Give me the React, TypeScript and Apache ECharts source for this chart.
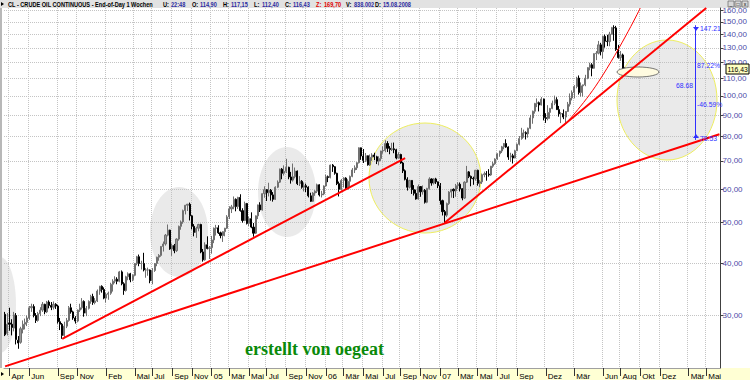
import React, { useEffect, useRef } from "react";
import * as echarts from "echarts";

// ---- data (weekly bars, week ending Friday) : [open, high, low, close]
const firstWeek = "2003-03-21";
const axisWeeks = 326;

const bars2003 = [
  [30.2, 30.6, 26.8, 27.0], [27.2, 30.4, 26.9, 28.6], [28.8, 31.3, 27.6, 28.6], [28.6, 29.4, 26.9, 28.1],
  [28.0, 30.6, 27.5, 30.1], [30.0, 30.4, 25.6, 26.3], [26.2, 26.8, 25.0, 25.8], [25.9, 28.2, 25.7, 27.9],
  [27.8, 29.2, 27.2, 28.6], [28.6, 29.5, 27.8, 28.9], [28.9, 30.0, 28.3, 29.6], [29.6, 31.6, 29.3, 31.3],
  [31.3, 32.0, 30.6, 31.5], [31.5, 31.9, 29.7, 30.0], [30.0, 30.4, 28.8, 29.2], [29.2, 30.6, 29.0, 30.3],
  [30.3, 31.4, 29.9, 30.9], [30.9, 32.3, 30.6, 31.9], [31.9, 32.0, 30.2, 30.6], [30.6, 32.5, 30.4, 32.3],
  [32.3, 32.6, 31.2, 31.7], [31.7, 32.3, 30.9, 31.4], [31.4, 32.4, 31.0, 31.9], [31.9, 32.1, 31.1, 31.6],
  [31.6, 31.8, 28.7, 29.0], [29.0, 29.6, 27.7, 28.6], [28.6, 28.8, 26.4, 26.9], [26.9, 29.0, 26.6, 28.3],
  [28.3, 29.6, 28.0, 29.2], [29.2, 31.6, 29.0, 31.3], [31.3, 32.0, 30.3, 30.6], [30.6, 30.8, 29.3, 29.6],
  [29.6, 29.9, 28.7, 29.1], [29.1, 31.0, 28.9, 30.9], [30.9, 32.0, 30.6, 31.3], [31.3, 33.0, 31.0, 32.4],
  [32.4, 32.6, 29.8, 30.4], [30.4, 31.6, 29.9, 31.2], [31.2, 32.6, 31.0, 32.4], [32.4, 33.6, 32.0, 33.3],
  [33.3, 33.8, 31.8, 32.2],
];
const bars2004 = [
  [32.2, 33.0, 31.9, 32.5], [32.5, 34.6, 32.3, 34.3], [34.3, 35.3, 33.6, 35.2], [35.2, 35.4, 34.0, 34.6],
  [34.6, 35.0, 32.8, 33.0], [33.0, 34.0, 32.2, 33.7], [33.7, 34.2, 32.7, 33.9], [33.9, 35.9, 33.6, 35.6],
  [35.6, 36.6, 34.2, 36.2], [36.2, 37.2, 35.8, 36.6], [36.6, 37.0, 35.6, 36.2], [36.2, 38.3, 36.0, 38.1],
  [38.1, 38.4, 35.4, 35.7], [35.7, 36.0, 33.6, 34.4], [34.4, 37.3, 34.2, 37.1], [37.1, 38.0, 36.4, 37.7],
  [37.7, 37.9, 36.0, 36.5], [36.5, 37.6, 36.2, 37.4], [37.4, 40.0, 37.2, 39.9], [39.9, 41.6, 39.5, 41.4],
  [41.4, 41.9, 39.3, 39.9], [39.9, 40.5, 38.6, 39.9], [39.9, 42.3, 38.2, 38.5], [38.5, 38.9, 36.9, 38.5],
  [38.5, 39.0, 37.3, 38.5], [38.5, 38.6, 35.8, 36.3], [36.3, 38.9, 35.6, 38.4], [38.4, 40.0, 38.1, 39.9],
  [39.9, 41.4, 39.3, 41.3], [41.3, 42.0, 40.5, 41.7], [41.7, 43.9, 41.4, 43.8], [43.8, 45.0, 42.6, 44.4],
  [44.4, 46.9, 44.0, 46.6], [46.6, 49.4, 46.3, 47.9], [47.9, 48.0, 43.0, 43.2], [43.2, 44.5, 41.6, 44.0],
  [44.0, 44.4, 42.2, 42.8], [42.8, 45.8, 42.5, 45.6], [45.6, 49.1, 45.2, 48.9], [48.9, 50.5, 48.0, 50.1],
  [50.1, 53.6, 49.6, 53.3], [53.3, 55.0, 52.2, 54.9], [54.9, 55.3, 53.2, 55.2], [55.2, 55.7, 50.5, 51.8],
  [51.8, 52.0, 48.1, 48.9], [48.9, 49.5, 46.3, 47.3], [47.3, 48.8, 45.9, 48.4], [48.4, 49.6, 47.6, 49.4],
  [49.4, 49.6, 42.2, 42.5], [42.5, 43.2, 40.3, 40.7], [40.7, 44.8, 40.5, 44.2], [44.2, 46.3, 43.1, 43.3],
  [43.3, 43.9, 40.9, 43.5],
];
const bars2005 = [
  [43.5, 46.4, 42.1, 45.4], [45.4, 48.6, 44.6, 48.4], [48.4, 49.3, 46.5, 48.5], [48.5, 49.2, 46.9, 47.2],
  [47.2, 47.5, 45.8, 46.5], [46.5, 47.6, 44.9, 47.5], [47.5, 48.5, 46.3, 48.4], [48.4, 52.0, 48.2, 51.5],
  [51.5, 54.6, 50.9, 53.8], [53.8, 55.0, 52.6, 54.4], [54.4, 57.6, 53.7, 56.7], [56.7, 57.0, 53.1, 54.5],
  [54.5, 57.5, 53.8, 57.3], [57.3, 58.3, 53.0, 53.3], [53.3, 54.0, 49.9, 50.5], [50.5, 56.0, 50.3, 55.4],
  [55.4, 55.6, 49.4, 49.7], [49.7, 51.6, 49.0, 51.0], [51.0, 52.8, 48.4, 48.7], [48.7, 49.8, 46.2, 47.1],
  [47.1, 51.9, 46.9, 51.8], [51.8, 55.1, 50.9, 55.0], [55.0, 55.8, 52.9, 53.5], [53.5, 58.6, 53.3, 58.5],
  [58.5, 60.9, 57.2, 59.8], [59.8, 60.0, 56.2, 58.8], [58.8, 62.1, 57.6, 59.6], [59.6, 60.0, 56.3, 58.1],
  [58.1, 59.0, 56.0, 56.7], [56.7, 60.9, 56.5, 60.6], [60.6, 62.9, 60.3, 62.3], [62.3, 67.1, 62.0, 66.9],
  [66.9, 67.3, 63.3, 65.4], [65.4, 68.3, 64.6, 66.1], [66.1, 70.8, 65.5, 67.6], [67.6, 67.8, 63.3, 64.1],
  [64.1, 65.9, 61.8, 63.0], [63.0, 69.0, 62.5, 64.2], [64.2, 67.5, 63.6, 66.2], [66.2, 66.4, 61.3, 61.8],
  [61.8, 64.4, 61.0, 62.6], [62.6, 63.0, 60.1, 60.6], [60.6, 62.2, 59.2, 61.1], [61.1, 61.8, 59.0, 60.6],
  [60.6, 60.9, 57.3, 57.8], [57.8, 58.8, 55.9, 56.1], [56.1, 59.0, 55.9, 58.7], [58.7, 59.6, 57.8, 59.3],
  [59.3, 61.8, 58.7, 61.4], [61.4, 61.6, 57.6, 58.1], [58.1, 59.4, 57.3, 58.4], [58.4, 61.2, 58.0, 61.0],
];
const bars2006 = [
  [61.0, 64.9, 60.8, 64.2], [64.2, 64.6, 62.3, 63.9], [63.9, 68.6, 63.6, 68.4], [68.4, 68.8, 65.9, 67.8],
  [67.8, 68.0, 64.9, 65.4], [65.4, 65.6, 61.3, 61.8], [61.8, 62.5, 57.6, 59.9], [59.9, 63.4, 59.5, 62.9],
  [62.9, 64.0, 60.5, 63.7], [63.7, 64.0, 59.8, 60.0], [60.0, 63.3, 59.9, 62.6], [62.6, 64.6, 60.3, 64.3],
  [64.3, 67.3, 64.0, 66.6], [66.6, 68.3, 65.5, 67.4], [67.4, 69.5, 66.6, 69.3], [69.3, 75.4, 69.0, 75.2],
  [75.2, 75.3, 70.4, 71.9], [71.9, 74.7, 69.2, 70.2], [70.2, 73.1, 69.6, 72.0], [72.0, 72.1, 68.2, 68.5],
  [68.5, 72.5, 68.1, 71.4], [71.4, 73.0, 70.0, 72.3], [72.3, 73.2, 70.3, 71.6], [71.6, 72.0, 68.8, 69.9],
  [69.9, 71.8, 68.3, 70.9], [70.9, 74.0, 70.0, 73.9], [73.9, 75.8, 72.8, 74.1], [74.1, 78.4, 73.4, 77.0],
  [77.0, 78.0, 73.5, 75.0], [75.0, 75.9, 72.6, 74.5], [74.5, 77.3, 73.9, 74.8], [74.8, 77.4, 73.0, 74.4],
  [74.4, 74.8, 70.6, 71.1], [71.1, 73.4, 70.9, 72.5], [72.5, 72.8, 68.9, 69.2], [69.2, 69.6, 65.5, 66.3],
  [66.3, 66.8, 62.9, 63.3], [63.3, 64.0, 59.5, 60.6], [60.6, 63.1, 60.2, 62.9], [62.9, 63.0, 58.4, 59.8],
  [59.8, 61.3, 57.9, 58.6], [58.6, 59.8, 56.6, 56.8], [56.8, 61.5, 56.6, 60.8], [60.8, 61.0, 57.5, 59.1],
  [59.1, 61.2, 58.2, 59.6], [59.6, 60.0, 55.4, 55.8], [55.8, 60.4, 55.5, 60.2], [60.2, 64.0, 59.8, 63.4],
  [63.4, 63.6, 61.1, 62.0], [62.0, 63.7, 61.5, 63.4], [63.4, 63.8, 61.7, 62.4], [62.4, 62.5, 60.3, 61.1],
];
const bars2007 = [
  [61.1, 62.0, 55.1, 56.3], [56.3, 56.6, 51.9, 53.0], [53.0, 53.5, 49.9, 52.0], [52.0, 55.7, 51.5, 55.4],
  [55.4, 59.3, 55.0, 59.0], [59.0, 60.0, 57.2, 59.9], [59.9, 60.2, 57.1, 59.4], [59.4, 61.7, 57.5, 61.1],
  [61.1, 62.3, 60.0, 61.6], [61.6, 62.2, 59.2, 60.1], [60.1, 60.3, 56.4, 57.1], [57.1, 62.6, 56.8, 62.3],
  [62.3, 68.1, 62.0, 65.9], [65.9, 66.2, 63.7, 64.3], [64.3, 64.6, 60.9, 63.6], [63.6, 64.2, 61.4, 63.4],
  [63.4, 66.6, 62.8, 66.5], [66.5, 66.7, 61.1, 61.9], [61.9, 63.0, 60.6, 62.4], [62.4, 65.3, 61.7, 64.9],
  [64.9, 66.0, 64.0, 65.2], [65.2, 66.2, 62.8, 65.1], [65.1, 66.9, 64.2, 64.8], [64.8, 68.1, 64.5, 68.0],
  [68.0, 69.7, 67.4, 68.9], [68.9, 71.0, 68.5, 70.7], [70.7, 73.0, 70.4, 72.8], [72.8, 74.0, 71.6, 73.9],
  [73.9, 76.0, 73.1, 75.6], [75.6, 77.2, 74.6, 77.0], [77.0, 78.8, 75.2, 75.5], [75.5, 75.8, 70.4, 71.5],
  [71.5, 73.2, 69.6, 72.0], [72.0, 72.8, 69.0, 71.1], [71.1, 74.4, 71.0, 74.0], [74.0, 77.0, 73.9, 76.7],
  [76.7, 80.2, 76.2, 79.1], [79.1, 83.9, 78.6, 81.6], [81.6, 83.1, 79.5, 81.7], [81.7, 82.3, 78.7, 81.2],
  [81.2, 84.0, 79.5, 83.7], [83.7, 90.1, 83.3, 88.6], [88.6, 92.2, 85.8, 91.9], [91.9, 96.2, 90.7, 95.9],
  [95.9, 98.6, 94.0, 96.3], [96.3, 96.9, 91.8, 95.1], [95.1, 99.3, 94.8, 98.2], [98.2, 98.5, 87.4, 88.7],
  [88.7, 90.9, 86.2, 88.3], [88.3, 95.0, 87.4, 91.3], [91.3, 93.6, 88.2, 93.3], [93.3, 97.4, 92.9, 96.0],
];
const bars2008 = [
  [96.0, 100.1, 95.0, 97.9], [97.9, 99.2, 92.6, 92.7], [92.7, 94.6, 89.2, 90.6], [90.6, 91.4, 86.1, 90.7],
  [90.7, 92.8, 88.0, 89.0], [89.0, 91.2, 86.1, 91.8], [91.8, 96.7, 91.5, 95.5], [95.5, 101.3, 94.3, 98.8],
  [98.8, 103.0, 97.5, 101.8], [101.8, 106.0, 98.6, 105.2], [105.2, 111.0, 104.2, 110.2], [110.2, 111.8, 100.7, 101.8],
  [101.8, 107.6, 99.6, 105.6], [105.6, 106.3, 99.6, 106.2], [106.2, 112.2, 105.4, 110.1], [110.1, 117.0, 109.5, 116.7],
  [116.7, 119.9, 115.0, 118.5], [118.5, 119.6, 111.3, 116.3], [116.3, 126.2, 116.0, 126.0], [126.0, 127.8, 121.6, 126.3],
  [126.3, 135.1, 125.5, 132.2], [132.2, 133.7, 124.8, 127.4], [127.4, 139.1, 122.7, 138.5], [138.5, 139.9, 130.2, 134.9],
  [134.9, 139.7, 131.3, 134.6], [134.6, 142.0, 131.2, 140.2], [140.2, 145.9, 139.8, 145.3], [145.3, 147.2, 135.2, 145.1],
  [145.1, 146.7, 127.9, 128.9], [128.9, 132.2, 122.6, 123.3], [123.3, 127.8, 121.1, 125.1], [125.1, 126.0, 114.6, 115.2],
  [114.9, 117.15, 112.4, 116.43],
];

const tickMonths = [
  "2003-04", "2003-06", "2003-09", "2003-11", "2004-02", "2004-05", "2004-07", "2004-09", "2004-11",
  "2005-01", "2005-03", "2005-05", "2005-07", "2005-09", "2005-11", "2006-01", "2006-03", "2006-05",
  "2006-07", "2006-09", "2006-11", "2007-01", "2007-03", "2007-05", "2007-07", "2007-09", "2007-12",
  "2008-03", "2008-06", "2008-08", "2008-10", "2008-12", "2009-03", "2009-05",
];
const tickLabels = [
  "Apr", "Jun", "Sep", "Nov", "Feb", "Mai", "Jul", "Sep", "Nov",
  "05", "Mär", "Mai", "Jul", "Sep", "Nov", "06", "Mär", "Mai",
  "Jul", "Sep", "Nov", "07", "Mär", "Mai", "Jul", "Sep", "Dez",
  "Mär", "Jun", "Aug", "Okt", "Dez", "Mär", "Mai",
];
const priceTicks = [30, 40, 50, 60, 70, 80, 90, 100, 110, 120, 130, 140, 150, 160];

// trend lines: [weekIndex, price] -> [weekIndex, price]
const trendLines = [
  { from: [0, 22.7], to: [325, 81.0], width: 2 },
  { from: [26, 26.4], to: [182, 71.1], width: 2 },
  { from: [200, 49.9], to: [319, 161.8], width: 2 },
];
const thinLine = [[254, 84.7], [270, 108], [289, 161.8]];
const measure = { week: 314, high: 147.21, low: 78.53 };

const headerTitle = "CL - CRUDE OIL CONTINUOUS - End-of-Day 1 Wochen";
const headerKeys = ["U:", "O:", "H:", "L:", "C:", "Z:", "V:", "D:"];
const headerValues = ["22:48", "114,90", "117,15", "112,40", "116,43", "169,70", "838.002", "15.08.2008"];
const headerX = [163, 192, 223, 254, 285, 316, 346, 375];

function buildWeeks(): string[] {
  const out: string[] = [];
  const start = new Date(firstWeek + "T00:00:00Z").getTime();
  for (let i = 0; i < axisWeeks; i++) {
    const d = new Date(start + i * 7 * 86400000);
    out.push(d.toISOString().slice(0, 10));
  }
  return out;
}

export default function App() {
  const ref = useRef<HTMLDivElement>(null);
  useEffect(() => {
    if (!ref.current) return;
    const chart = echarts.init(ref.current, undefined, { renderer: "svg" });
    const weeks = buildWeeks();
    const bars = [...bars2003, ...bars2004, ...bars2005, ...bars2006, ...bars2007, ...bars2008];
    const candle = bars.map(([o, h, l, c]) => [o, c, l, h]);
    const tickIdx: Record<number, string> = {};
    tickMonths.forEach((m, k) => {
      const i = weeks.findIndex((w) => w.slice(0, 7) === m);
      if (i >= 0) tickIdx[i] = tickLabels[k];
    });
    const isTick = (i: number) => tickIdx[i] !== undefined;
    const red = "#ff0000";
    const blue = "#3030ff";
    const markData: any[] = trendLines.map((l) => [
      { coord: [weeks[l.from[0]], l.from[1]], lineStyle: { width: l.width, color: red } },
      { coord: [weeks[l.to[0]], l.to[1]] },
    ]);
    markData.push([
      { coord: [weeks[measure.week], measure.high], lineStyle: { width: 1, color: blue, type: "solid" } },
      { coord: [weeks[measure.week], measure.low] },
    ]);
    const font = "Liberation Sans, Arial, sans-serif";
    const hdrFont = "bold 7px " + font;
    const graphic: any[] = [];
    const narrow = 0.8;
    graphic.push({ type: "text", x: 8, y: 4, scaleX: narrow, z: 20, style: { text: headerTitle, fill: "#000", font: hdrFont, verticalAlign: "middle" } });
    headerKeys.forEach((k, i) => {
      const isZ = k === "Z:";
      graphic.push({ type: "text", x: headerX[i], y: 4, scaleX: narrow, z: 20, style: { text: k, fill: isZ ? "#e00000" : "#000", font: hdrFont, verticalAlign: "middle" } });
      graphic.push({ type: "text", x: headerX[i] + 8, y: 4, scaleX: narrow, z: 20, style: { text: headerValues[i], fill: isZ ? "#e00000" : "#2a2aa0", font: hdrFont, verticalAlign: "middle" } });
    });
    // window buttons
    [728, 735, 742].forEach((x, k) => {
      graphic.push({ type: "rect", z: 20, shape: { x, y: 1, width: 6, height: 6 }, style: { fill: "#d8d8d8", stroke: "#555", lineWidth: 0.6 } });
      graphic.push({ type: "text", z: 21, x: x + 3, y: 4, style: { text: ["_", "□", "x"][k], fill: "#000", font: "5px " + font, align: "center", verticalAlign: "middle" } });
    });
    // left arrows
    graphic.push({ type: "polygon", z: 20, shape: { points: [[1, 2], [4, 4], [1, 6]] }, style: { fill: "#000" } });
    graphic.push({ type: "polygon", z: 20, shape: { points: [[1, 372], [4, 374], [1, 376]] }, style: { fill: "#000" } });
    // ellipses
    const grey = "rgba(190,190,190,0.32)";
    const ell = [
      { cx: 0, cy: 305, rx: 16, ry: 48, s: "none" },
      { cx: 179, cy: 232, rx: 29, ry: 45, s: "none" },
      { cx: 287, cy: 192, rx: 29, ry: 45, s: "none" },
      { cx: 425, cy: 178, rx: 56, ry: 55, s: "#eeee60" },
      { cx: 667, cy: 100, rx: 50, ry: 60, s: "#eeee60" },
    ];
    ell.forEach((e) => {
      graphic.push({ type: "ellipse", z: 1, shape: { cx: e.cx, cy: e.cy, rx: e.rx, ry: e.ry }, style: { fill: grey, stroke: e.s, lineWidth: 1 } });
    });
    graphic.push({ type: "ellipse", z: 3, shape: { cx: 638, cy: 72, rx: 21, ry: 5 }, style: { fill: "#fffbe0", stroke: "#555", lineWidth: 0.8 } });
    // measure labels
    const mt = [
      { t: "147.21", x: 700, y: 28 },
      { t: "87.22%", x: 697, y: 65 },
      { t: "68.68", x: 676, y: 85 },
      { t: "-46.59%", x: 697, y: 104 },
      { t: "78.53", x: 700, y: 138 },
    ];
    mt.forEach((m) => graphic.push({ type: "text", z: 20, x: m.x, y: m.y, scaleX: 0.85, style: { text: m.t, fill: blue, font: "8px " + font, verticalAlign: "middle" } }));
    graphic.push({ type: "polygon", z: 20, shape: { points: [[693, 27], [699, 27], [696, 31]] }, style: { fill: blue } });
    graphic.push({ type: "polygon", z: 20, shape: { points: [[693, 138], [699, 138], [696, 134]] }, style: { fill: blue } });
    // current price box
    graphic.push({ type: "rect", z: 20, shape: { x: 726, y: 64, width: 23, height: 10 }, style: { fill: "#ffffc0", stroke: "#000", lineWidth: 1 } });
    graphic.push({ type: "text", z: 21, x: 727.5, y: 69, scaleX: 0.85, style: { text: "116,43", fill: "#000", font: "8px " + font, verticalAlign: "middle" } });
    // credit
    graphic.push({ type: "text", z: 20, x: 245, y: 349, style: { text: "erstellt von oegeat", fill: "#0a8a0a", font: "bold 18px Liberation Serif, Times New Roman, serif", verticalAlign: "middle" } });

    chart.setOption({
      animation: false,
      backgroundColor: "transparent",
      grid: { left: 4, right: 29, top: 8, bottom: 12 },
      xAxis: {
        type: "category",
        data: weeks,
        boundaryGap: true,
        axisLine: { show: true, lineStyle: { color: "#a0a0a0", width: 1 } },
        axisTick: { show: true, alignWithLabel: true, interval: (i: number) => isTick(i), length: 8, lineStyle: { color: "#333" } },
        axisLabel: {
          interval: (i: number) => isTick(i),
          formatter: (_v: string, i: number) => tickIdx[i] || "",
          align: "left",
          margin: 4,
          fontSize: 8,
          color: "#000",
          fontFamily: font,
          padding: [0, 0, 0, 2],
        },
        splitLine: { show: true, interval: (i: number) => isTick(i), lineStyle: { color: "#c4c4c4", type: "dotted", width: 1 } },
      },
      yAxis: {
        type: "log",
        logBase: 10,
        position: "right",
        min: 22.5,
        max: 161.8,
        axisLine: { show: true, lineStyle: { color: "#404040", width: 1 } },
        axisTick: { show: true, length: 3, customValues: priceTicks, lineStyle: { color: "#404040" } },
        axisLabel: {
          customValues: priceTicks,
          formatter: (v: number) => v.toFixed(2).replace(".", ","),
          color: "#4a4aa8",
          fontSize: 8,
          fontFamily: font,
          margin: 2,
        },
        splitLine: { show: true, lineStyle: { color: "#c4c4c4", type: "dotted", width: 1 } },
      },
      graphic,
      series: [
        {
          type: "candlestick",
          data: candle,
          barWidth: 1.6,
          itemStyle: { color: "#9a9a9a", color0: "#000000", borderColor: "#707070", borderColor0: "#000000", borderWidth: 1 },
          markLine: {
            silent: true,
            symbol: ["none", "none"],
            label: { show: false },
            lineStyle: { type: "solid" },
            data: markData,
          },
        },
        {
          type: "line",
          data: thinLine.map(([i, v]) => [weeks[i], v]),
          smooth: true,
          symbol: "none",
          lineStyle: { color: red, width: 1 },
          z: 3,
        },
      ],
    });
    return () => chart.dispose();
  }, []);
  return (
    <div style={{ position: "fixed", left: 0, top: 0, width: 750, height: 380, background: "#fff" }}>
      <div style={{ position: "absolute", left: 0, top: 0, width: 750, height: 8, background: "#e2e2e2" }} />
      <div style={{ position: "absolute", left: 0, top: 368, width: 750, height: 12, background: "#ffffd4" }} />
      <div style={{ position: "absolute", left: 0, top: 8, width: 2, height: 360, background: "#b8b8b8" }} />
      <div ref={ref} style={{ position: "absolute", left: 0, top: 0, width: 750, height: 380 }} />
    </div>
  );
}
